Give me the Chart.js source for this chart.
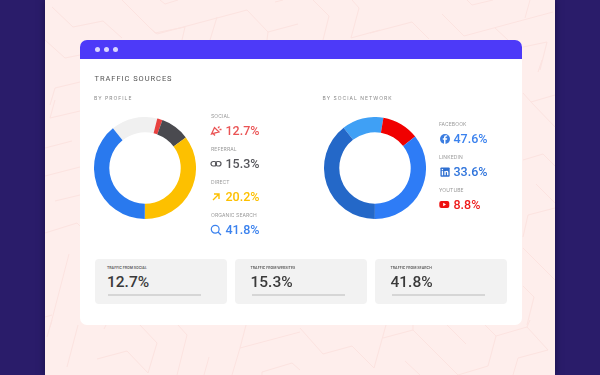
<!DOCTYPE html>
<html>
<head>
<meta charset="utf-8">
<script src="https://cdn.jsdelivr.net/npm/chart.js@4"></script>
<style>
html, body { margin: 0; padding: 0; }
body { width: 600px; height: 375px; overflow: hidden; background: #2a1c6a; font-family: "Inter", sans-serif; position: relative; }
#page { position: absolute; left: 45px; top: 0; width: 510px; height: 375px; background: #feeeec; box-shadow: 0 0 7px rgba(10,5,40,.55); }
#lines { position: absolute; left: 0; top: 0; }
#card { position: absolute; left: 80px; top: 40px; width: 442px; height: 285px; background: #fff; border-radius: 7px; overflow: hidden; }
#bar { height: 19px; background: #4d3af8; }
.dot { position: absolute; top: 7px; width: 5px; height: 5px; border-radius: 50%; background: #d9d4ff; }
.t { position: absolute; white-space: nowrap; line-height: 1; }
canvas { position: absolute; filter: blur(.3px); }
#layer { filter: blur(.35px); }
.lab { font-size: 5px; color: #9a9a9a; letter-spacing: .1px; }
.val { font-size: 12.5px; font-weight: 500; font-family: Roboto; }
.ic { position: absolute; }
.ic svg { display: block; }
.box { position: absolute; top: 258.5px; width: 132.5px; height: 45.5px; background: #f2f2f2; border-radius: 4px; }
.box .bl { position: absolute; top: 7.5px; font-size: 3.5px; color: #555; white-space: nowrap; font-weight: 600; }
.box .bv { position: absolute; top: 16px; font-size: 15.5px; font-weight: 500; font-family: Roboto; color: #3a3a3a; line-height: 1; }
.box .bb { position: absolute; top: 35.5px; width: 93px; height: 2px; background: #d6d6d6; }
</style>
</head>
<body>
<div id="page"></div>
<svg id="lines" width="600" height="375"></svg>
<div id="card"><div id="bar"></div>
<span class="dot" style="left:14.5px"></span><span class="dot" style="left:23.5px"></span><span class="dot" style="left:32.5px"></span>
</div>
<div id="layer"></div>
<canvas id="profile" width="102" height="102" style="left:94px;top:116.5px;width:102px;height:102px"></canvas>
<canvas id="social" width="102" height="102" style="left:324px;top:116.5px;width:102px;height:102px"></canvas>
<script>
const profileNames = ['Other', 'Accent', 'Referral', 'Direct', 'Organic Search'];
const profileValues = [14.7, 1.7, 9.2, 35.3, 39.1];
const profileColors = ['#f0f0f0', '#e8413f', '#4a4a4f', '#fdc000', '#2979ee'];

const socialNames = ['Other', 'YouTube', 'LinkedIn', 'Facebook'];
const socialValues = [13.2, 11.8, 35.6, 39.4];
const socialColors = ['#3fa0f5', '#f00000', '#2e7cf6', '#2468c8'];

const profileLabels = ['SOCIAL', 'REFERRAL', 'DIRECT', 'ORGANIC SEARCH'];
const profilePercents = ['12.7%', '15.3%', '20.2%', '41.8%'];
const socialLabels = ['FACEBOOK', 'LINKEDIN', 'YOUTUBE'];
const socialPercents = ['47.6%', '33.6%', '8.8%'];
const boxLabels = ['TRAFFIC FROM SOCIAL', 'TRAFFIC FROM WEBSITES', 'TRAFFIC FROM SEARCH'];
const boxPercents = ['12.7%', '15.3%', '41.8%'];

function donut(id, names, values, colors, rot) {
    new Chart(document.getElementById(id).getContext('2d'), {
        type: 'doughnut',
        data: {
            labels: names,
            datasets: [{ data: values, backgroundColor: colors, borderWidth: 0 }]
        },
        options: {
            plugins: { legend: { display: false }, tooltip: { enabled: false } },
            responsive: false,
            animation: false,
            cutout: '70%',
            rotation: rot
        }
    });
}
donut('profile', profileNames, profileValues, profileColors, -39);
donut('social', socialNames, socialValues, socialColors, -38);

// background pattern
const lines = document.getElementById('lines');
[
    '52,7 73,27 103,21 122,38', '45,40 65,58 80,55', '55,88 80,82', '55,88 50,105',
    '122,0 155,33 185,27', '160,0 165,4 178,0',
    '150,28 157,34 247,10 268,32 298,24', '268,32 267,40', '185,27 182,40', '217,17 210,40',
    '313,0 329,16 323,40', '352,0 359,8 351,38 380,30', '275,2 283,0',
    '370,33 412,22 429,39', '442,14 464,36 553,12', '530,0 525,18', '467,0 472,5 493,0',
    '495,28 508,40', '523,47 547,42 540,70',
    '78,325 67,367', '52,320 47,337', '140,325 157,343 148,373 127,351 97,359',
    '178,325 187,335 177,375', '246,325 240,348 232,375', '240,348 300,332',
    '209,357 204,375', '262,375 262,372 292,363 300,370', '106,325 104,329',
    '300,328 323,354 352,346 374,368 386,325',
    '383,338 413,330 458,375', '458,375 488,366 496,336 527,327 548,350 518,358 513,375',
    '413,325 413,330', '447,325 466,344', '485,325 496,336', '527,327 530,320', '405,361 420,375',
    '523,93 531,102 555,95', '531,102 555,127', '523,160 543,154 555,166', '536,184 555,203',
    '523,237 528,215 555,208', '523,248 555,280', '523,286 534,297 527,325', '542,60 538,72',
    '55,100 50,118 80,111', '45,148 72,141', '45,176 80,167', '55,201 80,195',
    '45,233 77,223 80,226', '69,254 50,327', '45,317 52,315'
].forEach(p => {
    const el = document.createElementNS('http://www.w3.org/2000/svg', 'polyline');
    el.setAttribute('points', p);
    el.setAttribute('fill', 'none');
    el.setAttribute('stroke', '#fce3e0');
    lines.appendChild(el);
});

const layer = document.getElementById('layer');
function text(str, x, y, cls, style) {
    const d = document.createElement('div');
    d.className = 't ' + cls;
    d.textContent = str;
    d.style.cssText = 'left:' + x + 'px;top:' + y + 'px;' + (style || '');
    layer.appendChild(d);
}
function icon(x, y, svg) {
    const d = document.createElement('div');
    d.className = 'ic';
    d.style.cssText = 'left:' + x + 'px;top:' + y + 'px;width:12px;height:12px';
    d.innerHTML = '<svg width="12" height="12" viewBox="0 0 12 12">' + svg + '</svg>';
    layer.appendChild(d);
}

text('TRAFFIC SOURCES', 94.5, 74.5, '', 'font-size:7.5px;letter-spacing:.95px;color:#555;font-family:Roboto;font-weight:400');
text('BY PROFILE', 94, 96, 'lab', 'letter-spacing:1px;color:#8a8a8a');
text('BY SOCIAL NETWORK', 322.5, 96, 'lab', 'letter-spacing:1px;color:#8a8a8a');

const profileCols = ['#ea5455', '#55555a', '#fdc000', '#3b82ee'];
const profileY = [113.5, 146.5, 179.5, 212.5];
profileLabels.forEach((l, i) => {
    text(l, 211, profileY[i], 'lab');
    text(profilePercents[i], 225.5, profileY[i] + 11.5, 'val', 'color:' + profileCols[i]);
});
const socialCols = ['#3b82ee', '#2f74dc', '#ee1c1c'];
const socialY = [121.5, 154.5, 187.5];
socialLabels.forEach((l, i) => {
    text(l, 439, socialY[i], 'lab');
    text(socialPercents[i], 453.5, socialY[i] + 11.5, 'val', 'color:' + socialCols[i]);
});

icon(210, 125, '<path d="M1.5 9 L4.5 2.5 L9 7 Z M3.5 9 L5 10.5 M8 3 L9.5 1.5 M9.5 4.5 L11.5 4.5" fill="none" stroke="#ea5455" stroke-width="1.3"/>');
icon(210, 158, '<rect x="1" y="3.5" width="5.5" height="4.5" rx="2.2" fill="none" stroke="#55555a" stroke-width="1.2"/><rect x="5.5" y="3.5" width="5.5" height="4.5" rx="2.2" fill="none" stroke="#55555a" stroke-width="1.2"/>');
icon(210, 191, '<path d="M3 9 L9 3 M4 3 L9 3 L9 8" fill="none" stroke="#fdc000" stroke-width="1.4"/>');
icon(210, 224, '<circle cx="5.2" cy="5.2" r="3.9" fill="none" stroke="#3b82ee" stroke-width="1.2"/><path d="M8 8 L11 11" stroke="#3b82ee" stroke-width="1.3"/>');
icon(438.5, 133, '<circle cx="6" cy="6" r="5" fill="#3b7de0"/><path d="M6.5 11 V6.8 H8 L8.2 5.2 H6.5 V4.4 Q6.5 3.6 7.4 3.6 H8.2 V2.3 H7 Q5 2.3 5 4.3 V5.2 H3.8 V6.8 H5 V11 Z" fill="#fff"/>');
icon(439.5, 167, '<g transform="scale(.88)"><rect x="0.5" y="0.5" width="10.5" height="10.5" rx="1" fill="#2f6fd0"/><rect x="2" y="4.5" width="1.5" height="5" fill="#fff"/><rect x="2" y="2.2" width="1.5" height="1.5" fill="#fff"/><path d="M5 9.5 V4.5 H6.4 V5.2 Q7 4.4 8 4.4 Q9.5 4.4 9.5 6.2 V9.5 H8 V6.6 Q8 5.6 7.2 5.6 Q6.5 5.6 6.5 6.6 V9.5 Z" fill="#fff"/></g>');
icon(439, 199, '<rect x="0.3" y="2" width="10" height="7" rx="2" fill="#ee1111"/><path d="M4.2 3.8 L7 5.5 L4.2 7.2 Z" fill="#fff"/>');

const boxLeft = [94.5, 234.5, 374.5];
const boxInset = [12.5, 16, 16];
boxLabels.forEach((l, i) => {
    const b = document.createElement('div');
    b.className = 'box';
    b.style.left = boxLeft[i] + 'px';
    const x = boxInset[i];
    b.innerHTML = '<div class="bl" style="left:' + x + 'px">' + l + '</div>' +
        '<div class="bv" style="left:' + x + 'px">' + boxPercents[i] + '</div>' +
        '<div class="bb" style="left:' + (x + 1) + 'px"></div>';
    layer.appendChild(b);
});
</script>
</body>
</html>
